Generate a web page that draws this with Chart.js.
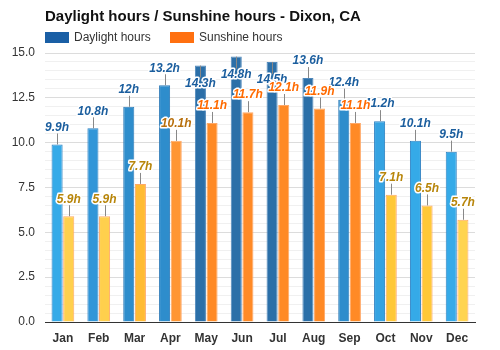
<!DOCTYPE html>
<html>
<head>
<meta charset="utf-8">
<script src="https://cdn.jsdelivr.net/npm/chart.js@4"></script>
<style>
  html, body { margin: 0; padding: 0; background: #fff; }
  #wrap { width: 500px; height: 350px; }
</style>
</head>
<body>
<div id="wrap"><canvas id="chart" width="500" height="350"></canvas></div>
<script>
const months = ['Jan', 'Feb', 'Mar', 'Apr', 'May', 'Jun', 'Jul', 'Aug', 'Sep', 'Oct', 'Nov', 'Dec'];
const daylightHours = [9.9, 10.8, 12, 13.2, 14.3, 14.8, 14.5, 13.6, 12.4, 11.2, 10.1, 9.5];
const sunshineHours = [5.9, 5.9, 7.7, 10.1, 11.1, 11.7, 12.1, 11.9, 11.1, 7.1, 6.5, 5.7];

// styles
const daylightFill = ['#35aae8', '#3196d8', '#2e8dcc', '#2e8dcc', '#2b6fa8', '#2b6fa8',
  '#2b6fa8', '#2b6fa8', '#2e8dcc', '#35a3e2', '#35aae8', '#35aae8'];
const daylightBorder = ['#2c80c2', '#2c80c2', '#2c7ab8', '#2c7ab8', '#5088bb', '#5088bb',
  '#5088bb', '#5088bb', '#2c7ab8', '#2c80c2', '#2c80c2', '#2c80c2'];
const sunshineFill = ['#ffd04d', '#ffd04d', '#ffbb33', '#ff9633', '#ff8a26', '#ff8a26',
  '#ff8a26', '#ff8a26', '#ff8a26', '#ffc838', '#ffc838', '#ffd450'];
const sunshineLabelColor = ['#b8860b', '#b8860b', '#b8860b', '#b8700d', '#ff6a00', '#ff6a00',
  '#ff6a00', '#ff6a00', '#ff6a00', '#b8860b', '#b8860b', '#b8860b'];
const daylightLabelColor = '#1b5e9e';
const FONT = 'Arial, "Liberation Sans", sans-serif';

// title + legend, drawn above the plot
const headerPlugin = {
  id: 'header',
  afterDraw(chart) {
    const ctx = chart.ctx;
    const left = chart.chartArea.left;
    ctx.save();
    ctx.textBaseline = 'middle';
    ctx.textAlign = 'left';
    ctx.fillStyle = '#111';
    ctx.font = 'bold 15px ' + FONT;
    ctx.fillText('Daylight hours / Sunshine hours - Dixon, CA', left, 17);

    const items = [
      { text: 'Daylight hours', color: '#1a5fa5', x: left },
      { text: 'Sunshine hours', color: '#ff7010', x: left + 125 }
    ];
    ctx.font = '12px ' + FONT;
    items.forEach(it => {
      ctx.fillStyle = it.color;
      ctx.fillRect(it.x, 32, 24, 11);
      ctx.fillStyle = '#333';
      ctx.fillText(it.text, it.x + 29, 38);
    });
    ctx.restore();
  }
};

// value labels with connector lines
const valueLabelPlugin = {
  id: 'valueLabels',
  afterDatasetsDraw(chart) {
    const ctx = chart.ctx;
    const top = chart.chartArea.top;
    const spots = [];
    chart.data.datasets.forEach((ds, di) => {
      const meta = chart.getDatasetMeta(di);
      meta.data.forEach((bar, i) => {
        let ly = bar.y - 17;
        let below = false;
        if (ly - 6 < top) { ly = bar.y + 18; below = true; }
        const color = di === 0 ? daylightLabelColor : sunshineLabelColor[i];
        spots.push({ x: bar.x, y: bar.y, ly, below, text: ds.data[i] + 'h', color });
      });
    });
    ctx.save();
    ctx.strokeStyle = '#888';
    ctx.lineWidth = 1;
    spots.forEach(s => {
      ctx.beginPath();
      const x = Math.round(s.x) + 0.5;
      ctx.moveTo(x, s.y);
      ctx.lineTo(x, s.below ? s.ly - 6 : s.ly + 6);
      ctx.stroke();
    });
    ctx.font = 'italic bold 12px ' + FONT;
    ctx.textAlign = 'center';
    ctx.textBaseline = 'middle';
    ctx.lineJoin = 'round';
    spots.forEach(s => {
      ctx.strokeStyle = '#fff';
      ctx.lineWidth = 3;
      ctx.strokeText(s.text, s.x, s.ly);
      ctx.fillStyle = s.color;
      ctx.fillText(s.text, s.x, s.ly);
    });
    ctx.restore();
  }
};

new Chart(document.getElementById('chart'), {
  type: 'bar',
  data: {
    labels: months,
    datasets: [
      {
        label: 'Daylight hours',
        data: daylightHours,
        backgroundColor: daylightFill,
        borderColor: daylightBorder,
        borderWidth: 1,
        categoryPercentage: 0.65,
        barPercentage: 0.95
      },
      {
        label: 'Sunshine hours',
        data: sunshineHours,
        backgroundColor: sunshineFill,
        borderColor: '#ffa866',
        borderWidth: 1,
        categoryPercentage: 0.65,
        barPercentage: 0.95
      }
    ]
  },
  options: {
    responsive: false,
    animation: false,
    layout: { padding: { top: 53, right: 25, left: 0, bottom: 0 } },
    plugins: {
      legend: { display: false },
      title: { display: false },
      tooltip: { enabled: false }
    },
    scales: {
      x: {
        grid: { display: false, drawTicks: false },
        border: { display: true, color: '#333', width: 1 },
        ticks: {
          color: '#333',
          padding: 9,
          font: { family: FONT, size: 12, weight: 'bold' }
        },
        afterFit(scale) { scale.height = 28; }
      },
      y: {
        min: 0,
        max: 15,
        border: { display: false },
        grid: {
          drawTicks: false,
          color: ctx => (ctx.tick && Math.abs(ctx.tick.value % 2.5) < 1e-6) ? '#dcdcdc' : '#f0f0f0'
        },
        ticks: {
          stepSize: 0.5,
          autoSkip: false,
          padding: 10,
          color: '#333',
          font: { family: FONT, size: 12 },
          callback: v => (Math.abs(v % 2.5) < 1e-6 ? v.toFixed(1) : '')
        },
        afterFit(scale) { scale.width = 45; }
      }
    }
  },
  plugins: [headerPlugin, valueLabelPlugin]
});
</script>
</body>
</html>
